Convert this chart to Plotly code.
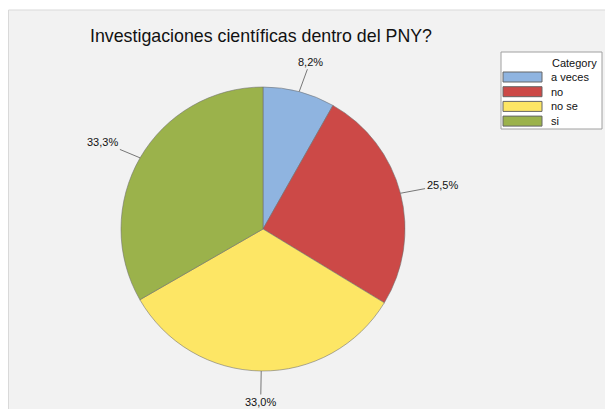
import math
import plotly.graph_objects as go

# datos
categories = ['a veces', 'no', 'no se', 'si']
values = [8.2, 25.5, 33.0, 33.3]
colors = ['#8fb4e0', '#cc4947', '#fde665', '#9bb24b']

W, H = 613, 409
cx, cy, R = 255, 221, 142  # pie centre / radius in pixels

fig = go.Figure()
fig.add_trace(go.Pie(
    labels=categories, values=values, sort=False, direction='clockwise',
    rotation=0, textinfo='none', hoverinfo='label+percent',
    marker=dict(colors=colors, line=dict(color='rgba(110,110,110,0.7)', width=0.8)),
    domain=dict(x=[(cx - R) / W, (cx + R) / W], y=[(H - cy - R) / H, (H - cy + R) / H]),
    showlegend=False,
))

# outside labels with leader lines
total = sum(values)
cum = 0
for v in values:
    mid = (cum + v / 2) / total * 2 * math.pi
    cum += v
    s, c = math.sin(mid), math.cos(mid)
    px, py = cx + R * s, cy - R * c
    lab = f"{v / total * 100:.1f}%".replace('.', ',')
    fig.add_annotation(x=px / W, y=1 - py / H, xref='paper', yref='paper',
                       text=lab, showarrow=True, arrowhead=0, arrowwidth=1,
                       arrowcolor='#777777', ax=43 * s, ay=-31 * c,
                       font=dict(size=11, color='#111111'))

# background panel
shapes = [dict(type='rect', xref='paper', yref='paper', x0=0.5 / W, x1=1.01, y0=-0.01, y1=1 - 2 / H,
               fillcolor='#f2f2f2', line=dict(color='#d9d9d9', width=1), layer='below')]

# legend box
lx0, ly0, lx1, ly1 = 493, 44, 594, 121
shapes.append(dict(type='rect', xref='paper', yref='paper', x0=lx0 / W, x1=lx1 / W,
                   y0=1 - ly1 / H, y1=1 - ly0 / H, fillcolor='white',
                   line=dict(color='#a0a0a0', width=1)))
fig.add_annotation(x=591 / W, y=1 - 55 / H, xref='paper', yref='paper', text='Category',
                   showarrow=False, xanchor='right', yanchor='middle',
                   font=dict(size=11, color='#111111'))
for i, (cat, col) in enumerate(zip(categories, colors)):
    yc = 69 + i * 14.7
    shapes.append(dict(type='rect', xref='paper', yref='paper', x0=495 / W, x1=534 / W,
                       y0=1 - (yc + 5) / H, y1=1 - (yc - 5) / H, fillcolor=col,
                       line=dict(color='#666666', width=1)))
    fig.add_annotation(x=541 / W, y=1 - yc / H, xref='paper', yref='paper', text=cat,
                       showarrow=False, xanchor='left', yanchor='middle',
                       font=dict(size=11, color='#111111'))

fig.update_layout(
    width=W, height=H, margin=dict(l=0, r=0, t=0, b=0),
    paper_bgcolor='white', shapes=shapes,
    font=dict(family='Liberation Sans, Arial, sans-serif'),
    title=dict(text='Investigaciones científicas dentro del PNY?', x=82 / W, xanchor='left',
               y=1 - 28 / H, yanchor='middle', font=dict(size=17.8, color='#111111')),
)

fig.write_html("out.html")
